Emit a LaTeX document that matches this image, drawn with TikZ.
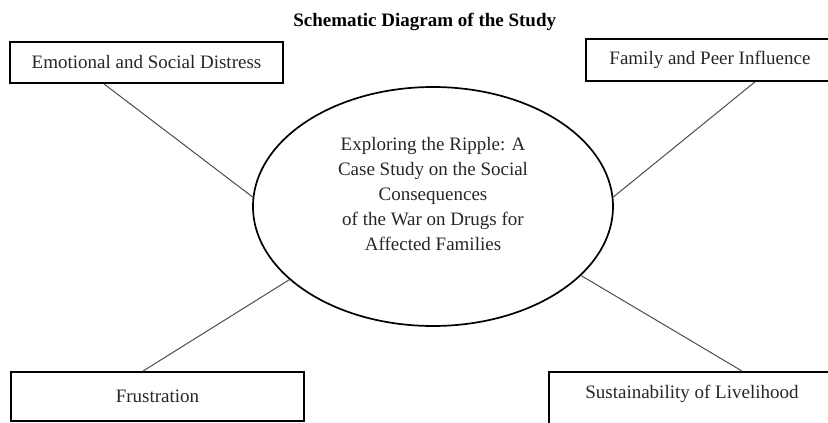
\documentclass[tikz,border=0pt]{standalone}
\usepackage{fontspec}
\setmainfont{Liberation Serif}
\usetikzlibrary{shapes.geometric,calc}
\begin{document}
\begin{tikzpicture}[x=1pt,y=-1pt,
  box/.style={draw, line width=1.9pt, inner sep=0pt, font=\fontsize{19}{25}\selectfont, text=black!85},
  link/.style={line width=1pt, draw=black!70},
  oval/.style={ellipse, draw, line width=1.7pt, minimum width=360pt, minimum height=239pt, inner sep=0pt}]
\useasboundingbox (0,0) rectangle (828,423);
\node[font=\bfseries\fontsize{19}{23}\selectfont, anchor=base, inner sep=0pt] (T) at (424.7,26.7) {Schematic Diagram of the Study};
\node[box, minimum width=273pt, minimum height=41pt] (A) at (146.5,62.5) {Emotional and Social Distress};
\node[box, minimum width=248pt, minimum height=42pt, anchor=north west] (B) at (585,38) {Family and Peer Influence};
\node[box, minimum width=293pt, minimum height=49pt] (C) at (157.5,396.5) {Frustration};
\node[box, minimum width=286pt, text height=13pt, text depth=40pt, inner ysep=14pt, anchor=north west] (D) at (548,371) {Sustainability of Livelihood};
\node[oval] (E) at (433,206.5) {};
\node[font=\fontsize{19}{25}\selectfont, align=center, inner sep=0pt, text=black!85] (Et) at (433,193.5) {Exploring the Ripple: A\\ Case Study on the Social\\ Consequences\\ of the War on Drugs for\\ Affected Families};
\draw[link] ([xshift=-42.5pt]A.south) -- (E.177);
\draw[link] ([xshift=45pt]B.south) -- (E.3);
\draw[link] ([xshift=-14.5pt]C.north) -- (E.207);
\draw[link] ([xshift=50pt]D.north) -- (E.335);
\end{tikzpicture}
\end{document}
